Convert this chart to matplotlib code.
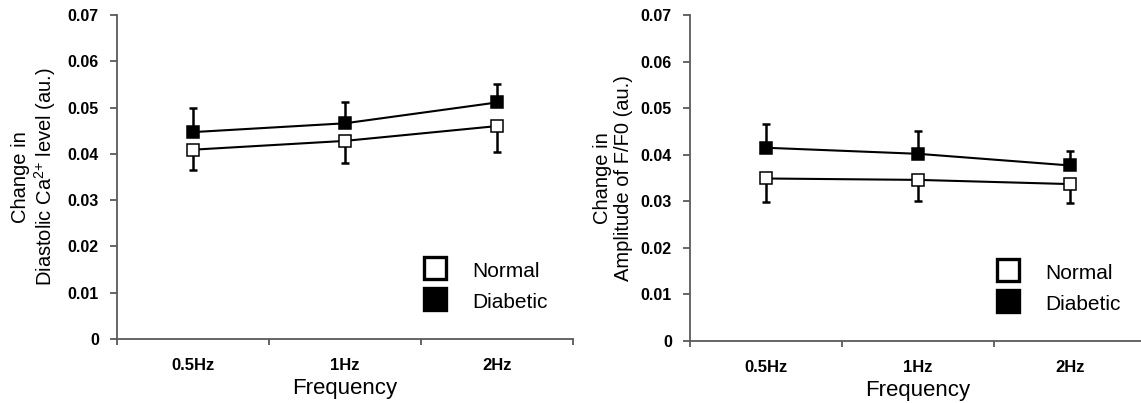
import matplotlib
matplotlib.use('Agg')
import matplotlib.pyplot as plt
from matplotlib.lines import Line2D

# categories and tick labels
FREQS = ['0.5Hz', '1Hz', '2Hz']
YTICKS = [0, 0.01, 0.02, 0.03, 0.04, 0.05, 0.06, 0.07]
YTICK_LABELS = ['0', '0.01', '0.02', '0.03', '0.04', '0.05', '0.06', '0.07']

# left panel: diastolic Ca2+ level
ca_normal = [0.0409, 0.0428, 0.0460]
ca_normal_err = [0.0044, 0.0048, 0.0057]
ca_diabetic = [0.0447, 0.0466, 0.0511]
ca_diabetic_err = [0.0052, 0.0045, 0.0039]

# right panel: amplitude of F/F0
amp_normal = [0.0349, 0.0346, 0.0337]
amp_normal_err = [0.0050, 0.0045, 0.0041]
amp_diabetic = [0.0415, 0.0402, 0.0377]
amp_diabetic_err = [0.0052, 0.0048, 0.0030]

INK = 'black'
SPINE = '#5a5a5a'
TICK_FONT = ['Liberation Sans Narrow', 'Liberation Sans', 'DejaVu Sans']
TEXT_FONT = ['Liberation Sans', 'DejaVu Sans']

plt.rcParams['mathtext.fontset'] = 'custom'
plt.rcParams['mathtext.rm'] = 'Liberation Sans'


def draw_panel(ax, normal, normal_err, diabetic, diabetic_err, ylabel, label_x):
    x = [i + 0.5 for i in range(len(FREQS))]
    zeros = [0] * len(x)
    # normal errors point down, diabetic errors point up
    ax.errorbar(x, normal, yerr=[normal_err, zeros], fmt='none', ecolor=INK,
                elinewidth=1.8, capsize=3, capthick=1.8, zorder=2)
    ax.errorbar(x, diabetic, yerr=[zeros, diabetic_err], fmt='none', ecolor=INK,
                elinewidth=1.8, capsize=3, capthick=1.8, zorder=2)
    ax.plot(x, normal, color=INK, lw=1.5, marker='s', ms=8.3, mfc='white',
            mec=INK, mew=1.1, zorder=3)
    ax.plot(x, diabetic, color=INK, lw=1.5, marker='s', ms=8.3, mfc=INK,
            mec=INK, mew=1.1, zorder=4)

    ax.set_xlim(0, 3)
    ax.set_ylim(0, 0.07)
    ax.set_xticks([0, 1, 2, 3])
    ax.set_xticklabels([])
    ax.set_xticks(x, minor=True)
    ax.set_xticklabels(FREQS, minor=True, fontfamily=TICK_FONT,
                       fontweight='bold', fontsize=12)
    ax.tick_params(axis='x', which='minor', length=0, pad=14)
    ax.tick_params(axis='x', which='major', length=4, width=1.3, color=SPINE)
    ax.set_yticks(YTICKS)
    ax.set_yticklabels(YTICK_LABELS, fontfamily=TICK_FONT, fontweight='bold',
                       fontsize=11.5)
    ax.tick_params(axis='y', length=5, width=1.3, color=SPINE, pad=8)

    for side in ('top', 'right'):
        ax.spines[side].set_visible(False)
    for side in ('left', 'bottom'):
        ax.spines[side].set_color(SPINE)
        ax.spines[side].set_linewidth(1.3)

    ax.set_xlabel('Frequency', fontfamily=TEXT_FONT, fontsize=16, labelpad=3)
    ax.set_ylabel(ylabel, fontfamily=TEXT_FONT, fontsize=14.5, linespacing=1.1)
    ax.yaxis.set_label_coords(label_x, 0.5)

    handles = [
        Line2D([], [], ls='none', marker='s', ms=16, mfc='white', mec=INK, mew=2.4),
        Line2D([], [], ls='none', marker='s', ms=16, mfc=INK, mec=INK, mew=2.4),
    ]
    ax.legend(handles, ['Normal', 'Diabetic'], loc='upper left',
              bbox_to_anchor=(0.67, 0.246), borderaxespad=0, borderpad=0,
              frameon=False, handlelength=1.2, handleheight=1.2,
              handletextpad=1.2, labelspacing=0.45,
              prop={'family': TEXT_FONT, 'size': 15})


def main():
    fig = plt.figure(figsize=(11.41, 4.03), dpi=100, facecolor='white')
    ax1 = fig.add_axes([0.1025, 0.1588, 0.3996, 0.804])
    ax2 = fig.add_axes([0.6047, 0.1538, 0.3996, 0.8089])

    draw_panel(ax1, ca_normal, ca_normal_err, ca_diabetic, ca_diabetic_err,
               'Change in\nDiastolic Ca$\\mathregular{^{2{+}}}$ level (au.)', -0.129)
    draw_panel(ax2, amp_normal, amp_normal_err, amp_diabetic, amp_diabetic_err,
               'Change in\nAmplitude of F/F0 (au.)', -0.125)

    fig.savefig('out.png', dpi=100, facecolor='white')


if __name__ == '__main__':
    main()
